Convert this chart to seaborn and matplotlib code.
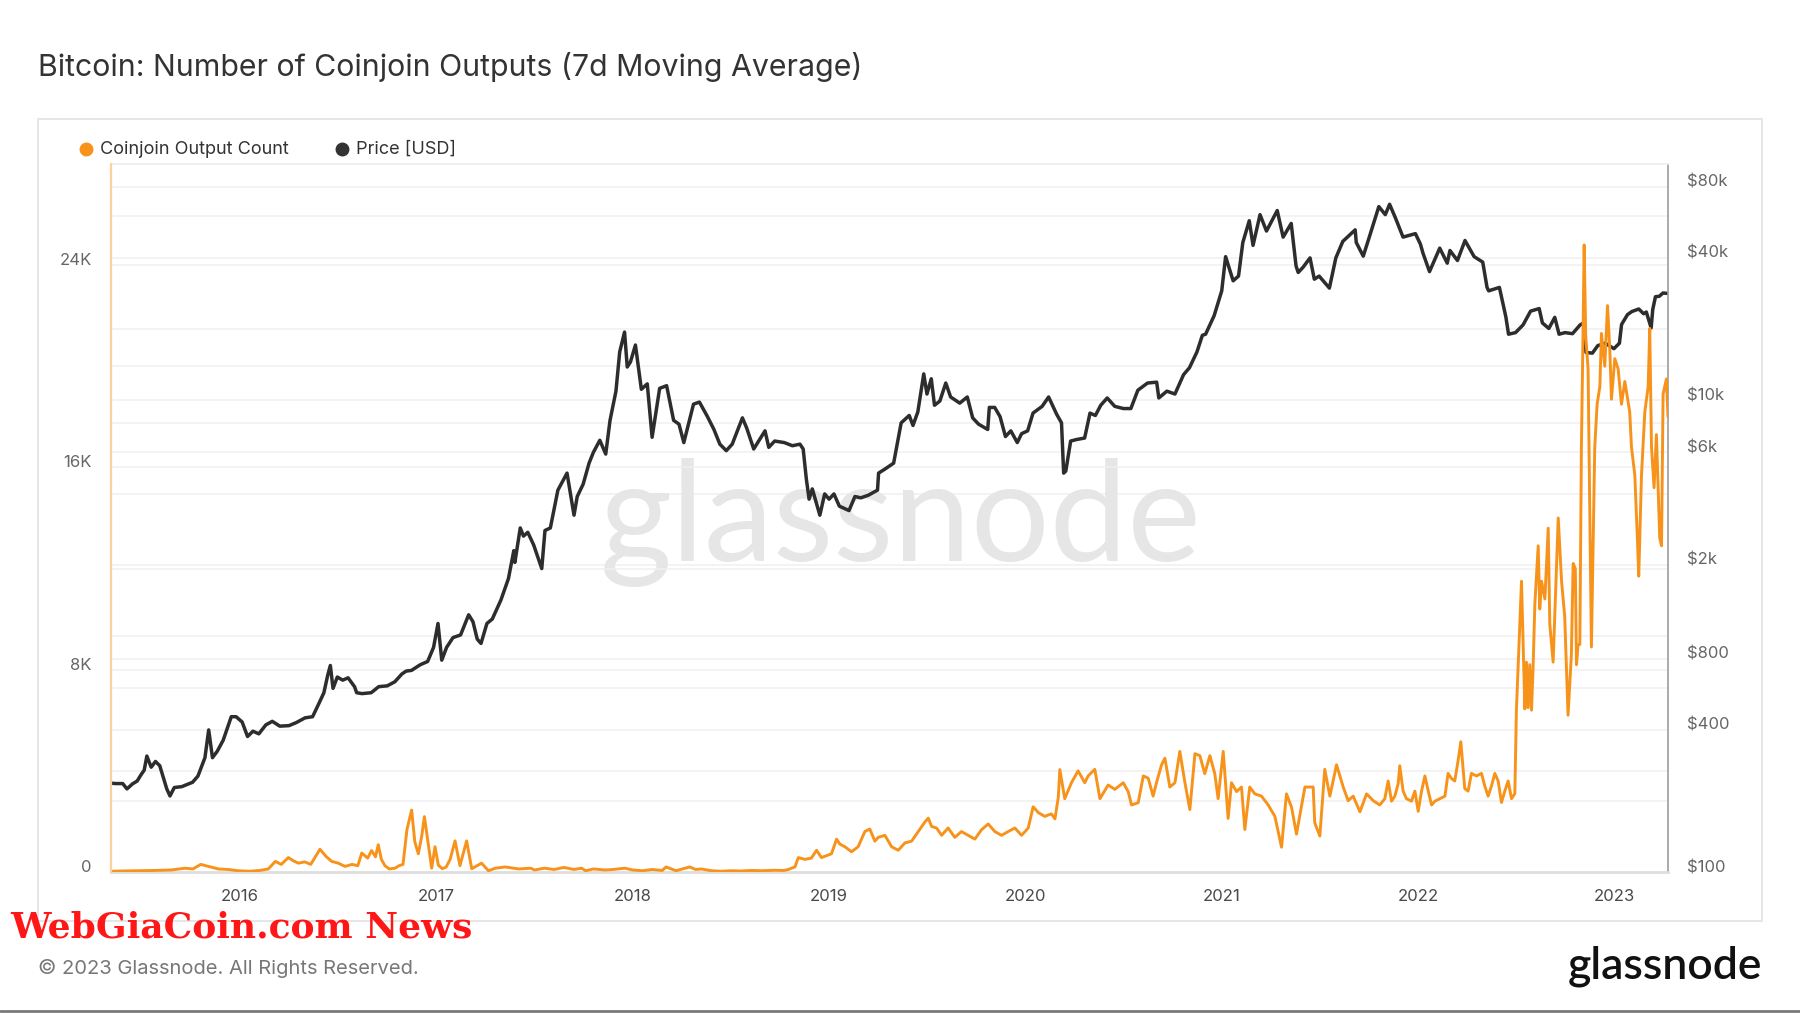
import matplotlib
matplotlib.use("Agg")
import matplotlib.pyplot as plt
import numpy as np
import pandas as pd
import seaborn as sns
from matplotlib import font_manager
from matplotlib.lines import Line2D
from matplotlib.patches import Rectangle
from matplotlib.ticker import NullLocator
from matplotlib.transforms import blended_transform_factory

# --- data --------------------------------------------------------------
price_dates = [
    "2015-05-05", "2015-05-15", "2015-05-28", "2015-06-05", "2015-06-15", "2015-06-24",
    "2015-07-01", "2015-07-07", "2015-07-12", "2015-07-20", "2015-07-28", "2015-08-05",
    "2015-08-18", "2015-08-24", "2015-09-01", "2015-09-15", "2015-09-25", "2015-10-05",
    "2015-10-15", "2015-10-28", "2015-11-04", "2015-11-11", "2015-11-20", "2015-12-01",
    "2015-12-10", "2015-12-16", "2015-12-25", "2016-01-05", "2016-01-15", "2016-01-25",
    "2016-02-05", "2016-02-18", "2016-03-01", "2016-03-15", "2016-04-01", "2016-04-15",
    "2016-05-01", "2016-05-15", "2016-05-28", "2016-06-05", "2016-06-12", "2016-06-17",
    "2016-06-22", "2016-06-30", "2016-07-10", "2016-07-20", "2016-08-01", "2016-08-05",
    "2016-08-15", "2016-09-01", "2016-09-15", "2016-10-01", "2016-10-15", "2016-10-28",
    "2016-11-05", "2016-11-15", "2016-12-01", "2016-12-15", "2016-12-26", "2017-01-04",
    "2017-01-11", "2017-01-20", "2017-02-01", "2017-02-15", "2017-03-02", "2017-03-10",
    "2017-03-18", "2017-03-25", "2017-04-05", "2017-04-15", "2017-05-01", "2017-05-15",
    "2017-05-25", "2017-05-27", "2017-06-06", "2017-06-12", "2017-06-20", "2017-07-01",
    "2017-07-16", "2017-07-22", "2017-08-01", "2017-08-15", "2017-09-01", "2017-09-14",
    "2017-09-20", "2017-10-01", "2017-10-12", "2017-10-20", "2017-11-01", "2017-11-12",
    "2017-11-20", "2017-12-01", "2017-12-08", "2017-12-17", "2017-12-22", "2017-12-28",
    "2018-01-06", "2018-01-17", "2018-01-28", "2018-02-06", "2018-02-20", "2018-03-05",
    "2018-03-18", "2018-03-28", "2018-04-06", "2018-04-24", "2018-05-05", "2018-05-20",
    "2018-06-01", "2018-06-12", "2018-06-24", "2018-07-05", "2018-07-24", "2018-08-01",
    "2018-08-14", "2018-09-04", "2018-09-11", "2018-09-22", "2018-10-10", "2018-10-25",
    "2018-11-08", "2018-11-14", "2018-11-20", "2018-11-25", "2018-12-01", "2018-12-15",
    "2018-12-24", "2019-01-01", "2019-01-10", "2019-01-20", "2019-02-07", "2019-02-18",
    "2019-03-01", "2019-03-15", "2019-04-01", "2019-04-03", "2019-04-15", "2019-05-01",
    "2019-05-15", "2019-05-30", "2019-06-06", "2019-06-15", "2019-06-26", "2019-07-02",
    "2019-07-10", "2019-07-16", "2019-07-26", "2019-08-06", "2019-08-15", "2019-09-01",
    "2019-09-15", "2019-09-25", "2019-10-06", "2019-10-23", "2019-10-26", "2019-11-05",
    "2019-11-15", "2019-11-25", "2019-12-05", "2019-12-17", "2019-12-25", "2020-01-05",
    "2020-01-15", "2020-02-01", "2020-02-13", "2020-02-28", "2020-03-08", "2020-03-12",
    "2020-03-16", "2020-03-25", "2020-04-05", "2020-04-20", "2020-04-30", "2020-05-10",
    "2020-05-20", "2020-06-01", "2020-06-15", "2020-07-01", "2020-07-15", "2020-07-28",
    "2020-08-15", "2020-09-01", "2020-09-05", "2020-09-20", "2020-10-05", "2020-10-21",
    "2020-11-01", "2020-11-15", "2020-11-25", "2020-12-01", "2020-12-17", "2020-12-31",
    "2021-01-08", "2021-01-22", "2021-02-01", "2021-02-09", "2021-02-21", "2021-02-28",
    "2021-03-13", "2021-03-25", "2021-04-14", "2021-04-25", "2021-05-10", "2021-05-19",
    "2021-05-23", "2021-06-01", "2021-06-14", "2021-06-22", "2021-07-01", "2021-07-20",
    "2021-08-01", "2021-08-14", "2021-09-06", "2021-09-08", "2021-09-21", "2021-10-01",
    "2021-10-20", "2021-11-01", "2021-11-09", "2021-11-20", "2021-12-04", "2021-12-27",
    "2022-01-05", "2022-01-10", "2022-01-22", "2022-02-10", "2022-02-24", "2022-03-01",
    "2022-03-15", "2022-03-29", "2022-04-15", "2022-05-01", "2022-05-09", "2022-05-12",
    "2022-06-01", "2022-06-13", "2022-06-18", "2022-07-01", "2022-07-15", "2022-07-29",
    "2022-08-14", "2022-08-20", "2022-09-01", "2022-09-12", "2022-09-20", "2022-10-01",
    "2022-10-15", "2022-10-29", "2022-11-05", "2022-11-09", "2022-11-21", "2022-12-01",
    "2022-12-15", "2022-12-31", "2023-01-10", "2023-01-14", "2023-01-25", "2023-02-02",
    "2023-02-15", "2023-02-24", "2023-03-01", "2023-03-10", "2023-03-13", "2023-03-18",
    "2023-03-25", "2023-04-01", "2023-04-09",
]
price_usd = [
    238, 237, 237, 225, 236, 243,
    258, 270, 310, 278, 294, 282,
    225, 210, 228, 230, 235, 240,
    255, 305, 400, 305, 325, 362,
    415, 455, 455, 432, 375, 395,
    385, 420, 435, 415, 417, 430,
    450, 455, 525, 575, 680, 750,
    600, 670, 650, 665, 610, 575,
    570, 575, 610, 615, 640, 690,
    710, 715, 755, 780, 895, 1130,
    790, 895, 985, 1010, 1230, 1150,
    970, 930, 1130, 1180, 1420, 1750,
    2300, 2050, 2870, 2650, 2750, 2430,
    1930, 2800, 2870, 4150, 4900, 3250,
    3900, 4400, 5400, 6000, 6750, 5900,
    8200, 10900, 16000, 19400, 13800, 14500,
    17100, 11100, 11700, 6950, 11200, 11500,
    8200, 7900, 6600, 9600, 9800, 8500,
    7500, 6500, 6100, 6500, 8400, 7600,
    6200, 7400, 6300, 6700, 6600, 6400,
    6500, 6200, 4600, 3800, 4200, 3250,
    4000, 3800, 4000, 3550, 3400, 3900,
    3850, 3950, 4150, 4900, 5100, 5400,
    8000, 8600, 7800, 8900, 12900, 10600,
    12300, 9500, 9900, 11800, 10300, 9700,
    10300, 8400, 7900, 7500, 9300, 9300,
    8500, 7000, 7400, 6600, 7200, 7400,
    8800, 9400, 10300, 8700, 8000, 4900,
    5000, 6700, 6800, 6900, 8800, 8600,
    9500, 10200, 9400, 9200, 9200, 11000,
    11800, 11900, 10200, 10900, 10600, 12800,
    13700, 16000, 18800, 19000, 22800, 29000,
    40500, 32000, 33500, 46500, 57500, 45200,
    61000, 52000, 63500, 49000, 56000, 37000,
    34700, 36500, 40000, 32500, 33500, 29800,
    40000, 47000, 52600, 46500, 40700, 48000,
    66000, 61000, 67500, 59000, 49000, 50700,
    45800, 41800, 35000, 44000, 38000, 43000,
    39000, 47400, 40500, 38400, 30000, 29000,
    30000, 22500, 19000, 19300, 20800, 23800,
    24400, 21200, 20100, 22400, 19000, 19300,
    19100, 20800, 21200, 15900, 15800, 17000,
    17400, 16500, 17400, 20900, 23000, 23700,
    24300, 23200, 23600, 20200, 24200, 27400,
    27500, 28400, 28300,
]

coinjoin_years = [
    2015.345, 2015.40, 2015.48, 2015.56, 2015.65, 2015.72, 2015.76, 2015.80, 2015.84,
    2015.89, 2015.94, 2015.99, 2016.05, 2016.10, 2016.144, 2016.18, 2016.21, 2016.246,
    2016.27, 2016.297, 2016.33, 2016.36, 2016.407, 2016.44, 2016.467, 2016.50, 2016.535,
    2016.57, 2016.60, 2016.62, 2016.65, 2016.67, 2016.69, 2016.704, 2016.72, 2016.738,
    2016.76, 2016.789, 2016.81, 2016.83, 2016.85, 2016.874, 2016.89, 2016.908, 2016.925,
    2016.939, 2016.955, 2016.976, 2016.993, 2017.01, 2017.03, 2017.05, 2017.07, 2017.095,
    2017.12, 2017.154, 2017.18, 2017.23, 2017.265, 2017.30, 2017.35, 2017.42, 2017.48,
    2017.50, 2017.55, 2017.60, 2017.65, 2017.70, 2017.74, 2017.76, 2017.80, 2017.86,
    2017.90, 2017.96, 2018.00, 2018.05, 2018.10, 2018.15, 2018.17, 2018.22, 2018.29,
    2018.32, 2018.35, 2018.40, 2018.45, 2018.50, 2018.55, 2018.60, 2018.66, 2018.72,
    2018.77, 2018.792, 2018.826, 2018.843, 2018.877, 2018.91, 2018.936, 2018.961, 2019.012,
    2019.038, 2019.055, 2019.08, 2019.114, 2019.148, 2019.182, 2019.207, 2019.233, 2019.25,
    2019.284, 2019.318, 2019.352, 2019.386, 2019.42, 2019.454, 2019.488, 2019.505, 2019.522,
    2019.547, 2019.573, 2019.606, 2019.64, 2019.674, 2019.708, 2019.742, 2019.776, 2019.81,
    2019.844, 2019.878, 2019.912, 2019.946, 2019.98, 2020.014, 2020.039, 2020.065, 2020.098,
    2020.132, 2020.15, 2020.167, 2020.175, 2020.20, 2020.234, 2020.268, 2020.302, 2020.319,
    2020.353, 2020.379, 2020.421, 2020.455, 2020.498, 2020.523, 2020.54, 2020.574, 2020.60,
    2020.625, 2020.65, 2020.667, 2020.693, 2020.71, 2020.735, 2020.761, 2020.786, 2020.812,
    2020.837, 2020.863, 2020.888, 2020.913, 2020.939, 2020.964, 2020.981, 2021.007, 2021.032,
    2021.049, 2021.075, 2021.10, 2021.117, 2021.142, 2021.168, 2021.202, 2021.236, 2021.27,
    2021.304, 2021.329, 2021.355, 2021.38, 2021.423, 2021.465, 2021.473, 2021.499, 2021.524,
    2021.55, 2021.584, 2021.618, 2021.643, 2021.669, 2021.703, 2021.737, 2021.771, 2021.804,
    2021.83, 2021.847, 2021.864, 2021.881, 2021.898, 2021.906, 2021.923, 2021.94, 2021.966,
    2021.983, 2022.00, 2022.017, 2022.034, 2022.051, 2022.068, 2022.085, 2022.11, 2022.136,
    2022.152, 2022.169, 2022.186, 2022.203, 2022.217, 2022.237, 2022.254, 2022.271, 2022.297,
    2022.322, 2022.339, 2022.356, 2022.373, 2022.39, 2022.407, 2022.424, 2022.441, 2022.458,
    2022.475, 2022.492, 2022.50, 2022.517, 2022.526, 2022.543, 2022.551, 2022.56, 2022.568,
    2022.577, 2022.585, 2022.594, 2022.611, 2022.619, 2022.628, 2022.645, 2022.662, 2022.67,
    2022.687, 2022.704, 2022.713, 2022.73, 2022.746, 2022.763, 2022.78, 2022.789, 2022.80,
    2022.806, 2022.814, 2022.823, 2022.831, 2022.84, 2022.845, 2022.853, 2022.865, 2022.882,
    2022.899, 2022.911, 2022.925, 2022.933, 2022.95, 2022.964, 2022.976, 2022.984, 2023.001,
    2023.018, 2023.035, 2023.052, 2023.077, 2023.086, 2023.103, 2023.116, 2023.123, 2023.137,
    2023.154, 2023.171, 2023.179, 2023.188, 2023.201, 2023.213, 2023.23, 2023.239, 2023.247,
    2023.264, 2023.272,
]
coinjoin_k = [
    0.03, 0.04, 0.05, 0.06, 0.08, 0.15, 0.12, 0.30, 0.22,
    0.12, 0.10, 0.05, 0.03, 0.06, 0.12, 0.42, 0.30, 0.57,
    0.45, 0.35, 0.40, 0.30, 0.90, 0.60, 0.42, 0.35, 0.22,
    0.30, 0.25, 0.75, 0.55, 0.85, 0.60, 1.08, 0.50, 0.25,
    0.12, 0.15, 0.25, 0.30, 1.67, 2.45, 1.20, 0.72, 1.40,
    2.19, 1.30, 0.15, 1.00, 0.27, 0.13, 0.20, 0.50, 1.23,
    0.25, 1.23, 0.13, 0.35, 0.05, 0.15, 0.20, 0.12, 0.15,
    0.08, 0.15, 0.10, 0.18, 0.10, 0.15, 0.05, 0.12, 0.08,
    0.10, 0.15, 0.08, 0.05, 0.10, 0.06, 0.20, 0.05, 0.20,
    0.10, 0.12, 0.05, 0.03, 0.05, 0.04, 0.06, 0.05, 0.07,
    0.06, 0.10, 0.20, 0.57, 0.50, 0.55, 0.86, 0.57, 0.72,
    1.30, 1.10, 1.00, 0.80, 1.00, 1.60, 1.70, 1.22, 1.37,
    1.45, 1.00, 0.86, 1.15, 1.22, 1.60, 1.98, 2.13, 1.80,
    1.74, 1.45, 1.74, 1.37, 1.60, 1.45, 1.30, 1.67, 1.90,
    1.60, 1.45, 1.60, 1.74, 1.45, 1.74, 2.58, 2.35, 2.20,
    2.30, 2.10, 2.95, 4.05, 2.90, 3.53, 4.00, 3.53, 3.80,
    4.06, 2.90, 3.44, 3.27, 3.53, 3.18, 2.65, 2.74, 3.80,
    3.71, 3.00, 3.53, 4.24, 4.50, 3.36, 3.53, 4.77, 3.53,
    2.47, 4.68, 4.60, 3.89, 4.60, 3.89, 2.90, 4.77, 2.12,
    3.53, 3.18, 3.36, 1.68, 3.36, 3.09, 3.00, 2.65, 2.20,
    0.98, 3.09, 2.56, 1.50, 3.36, 3.36, 1.95, 1.42, 4.06,
    3.00, 4.24, 3.36, 2.82, 3.00, 2.38, 3.09, 2.82, 2.65,
    2.90, 3.60, 2.80, 3.00, 3.50, 4.20, 3.20, 2.90, 2.80,
    3.20, 2.40, 3.20, 3.80, 3.20, 2.65, 2.80, 2.90, 3.00,
    3.90, 3.70, 3.60, 4.40, 5.15, 3.30, 3.20, 3.90, 3.80,
    3.90, 3.40, 3.00, 3.40, 3.90, 3.60, 2.75, 3.20, 3.60,
    2.90, 3.10, 6.40, 9.70, 11.50, 6.45, 8.30, 6.50, 8.20,
    6.40, 8.10, 10.60, 12.90, 10.40, 11.50, 10.80, 13.60, 9.80,
    8.30, 12.00, 14.00, 11.50, 10.10, 6.20, 8.60, 12.20, 12.00,
    8.20, 9.00, 9.00, 16.80, 21.70, 24.80, 21.20, 19.90, 8.90,
    16.80, 18.50, 19.20, 21.30, 20.00, 22.40, 20.60, 18.70, 20.30,
    19.90, 18.50, 19.40, 18.20, 16.80, 15.70, 13.20, 11.70, 15.70,
    18.20, 19.20, 21.50, 16.80, 15.20, 17.30, 13.20, 12.90, 18.90,
    19.50, 18.00,
]

year_ticks = [2016, 2017, 2018, 2019, 2020, 2021, 2022, 2023]
left_ticks = [0, 8000, 16000, 24000]
left_labels = ["0", "8K", "16K", "24K"]
left_grid = [4000, 8000, 12000, 16000, 20000, 24000]
right_ticks = [100, 400, 800, 2000, 6000, 10000, 40000, 80000]
right_labels = ["$100", "$400", "$800", "$2k", "$6k", "$10k", "$40k", "$80k"]
right_grid = [200, 400, 600, 800, 1000, 2000, 4000, 6000, 8000, 10000,
              20000, 40000, 60000, 80000]

ORANGE = "#f7931a"
DARK = "#2d2d2d"
GRID = "#f0f0f0"


def to_decimal_year(dates):
    d = pd.to_datetime(pd.Series(dates))
    return d.dt.year + (d.dt.dayofyear - 1) / 365.25


def pick_narrow_font():
    names = sorted({f.name for f in font_manager.fontManager.ttflist})
    for wanted in ["DejaVu Serif Condensed", "Liberation Sans Narrow",
                   "DejaVu Sans Condensed", "Noto Sans Condensed"]:
        if wanted in names:
            return wanted
    return "DejaVu Serif"


price_df = pd.DataFrame({"year": to_decimal_year(price_dates), "price": price_usd})
cj_df = pd.DataFrame({"year": coinjoin_years, "count": np.array(coinjoin_k) * 1000})

sns.set_theme(style="white")
plt.rcParams["font.family"] = ["Inter", "DejaVu Sans"]

W, H = 1800, 1013
fig = plt.figure(figsize=(W / 100, H / 100), dpi=100)
fig.patch.set_facecolor("white")

# card frame
fig.add_artist(Rectangle((38 / W, 1 - 921 / H), (1762 - 38) / W, (921 - 119) / H,
                         transform=fig.transFigure, fill=False, ec="#e4e4e4", lw=1.3))

ax = fig.add_axes([111 / W, 1 - 872 / H, (1668 - 111) / W, (872 - 164) / H])
ax2 = ax.twinx()

# price on the right (log) axis, drawn underneath
sns.lineplot(data=price_df, x="year", y="price", ax=ax2, color=DARK, linewidth=2.5)
ax2.set_yscale("log")
ax2.set_ylim(100, 100000)
for v in right_grid:
    ax2.axhline(v, color=GRID, lw=1.1, zorder=0)
gtrans = blended_transform_factory(ax2.transAxes, ax.transData)
ax2.text(0.507, 0.494, "glassnode", transform=ax2.transAxes, ha="center", va="center",
         fontsize=100, color="#e6e6e6", family=["Lato", "DejaVu Sans"], zorder=0)

# coinjoin count on the left axis, on top
sns.lineplot(data=cj_df, x="year", y="count", ax=ax, color=ORANGE, linewidth=2.1)
ax.set_ylim(0, 28000)
ax.set_xlim(2015.343, 2023.272)
for v in left_grid:
    ax2.plot([0, 1], [v, v], transform=gtrans, color=GRID, lw=1.1, zorder=0)

ax.set_zorder(ax2.get_zorder() + 1)
ax.patch.set_visible(False)

ax.set_xlabel("")
ax.set_ylabel("")
ax2.set_ylabel("")
ax.set_xticks(year_ticks, [str(y) for y in year_ticks])
ax.set_yticks(left_ticks, left_labels)
ax2.set_yticks(right_ticks, right_labels)
ax2.yaxis.set_minor_locator(NullLocator())
ax.tick_params(axis="x", length=9, width=1, color="#e8e8e8", pad=3,
               labelsize=12, labelcolor="#4a4a4a")
ax.tick_params(axis="y", length=0, pad=14, labelsize=12, labelcolor="#666666")
ax2.tick_params(axis="y", length=0, pad=14, labelsize=12, labelcolor="#666666")
for lbl in ax.get_yticklabels() + ax2.get_yticklabels():
    lbl.set_verticalalignment("baseline")

for side in ["top", "right", "bottom"]:
    ax.spines[side].set_visible(False)
ax.spines["left"].set_color("#fcd1a0")
ax.spines["left"].set_linewidth(1.6)
ax2.spines["left"].set_visible(False)
ax2.spines["right"].set_color("#9c9c9c")
ax2.spines["right"].set_linewidth(1.2)
ax2.spines["top"].set_color("#eeeeee")
ax2.spines["bottom"].set_color("#dedede")
ax2.spines["bottom"].set_linewidth(2)

# title
fig.text(38 / W, 1 - 67 / H, "Bitcoin: Number of Coinjoin Outputs (7d Moving Average)",
         fontsize=21.8, color="#333333", va="center", ha="left")

# legend
for mx, tx, col, lab in [(86, 100, ORANGE, "Coinjoin Output Count"),
                         (342, 356, "#333333", "Price [USD]")]:
    fig.add_artist(Line2D([mx / W], [1 - 149 / H], marker="o", markersize=9,
                          color=col, linestyle="", transform=fig.transFigure))
    fig.text(tx / W, 1 - 149 / H, lab, fontsize=13, color="#333333",
             va="center", ha="left")

# footer
red = fig.text(10 / W, 1 - 927 / H, "WebGiaCoin.com News", fontsize=30, fontweight="bold",
               color="#ff1616", va="center", ha="left", family=pick_narrow_font())
renderer = fig.canvas.get_renderer()
red_w = red.get_window_extent(renderer).width
red.set_fontsize(30 * 462 / red_w)

fig.text(38 / W, 1 - 968 / H, "\u00a9 2023 Glassnode. All Rights Reserved.",
         fontsize=14.5, color="#777777", va="center", ha="left")
fig.text(1762 / W, 1 - 966 / H, "glassnode", fontsize=32, color="#111111",
         va="center", ha="right", fontweight="semibold", family=["Lato", "DejaVu Sans"])
fig.add_artist(Line2D([0, 1], [1 - 1011 / H, 1 - 1011 / H], color="#7a7a7a", lw=2,
                      transform=fig.transFigure))

fig.savefig("out.png", dpi=100, facecolor="white")
